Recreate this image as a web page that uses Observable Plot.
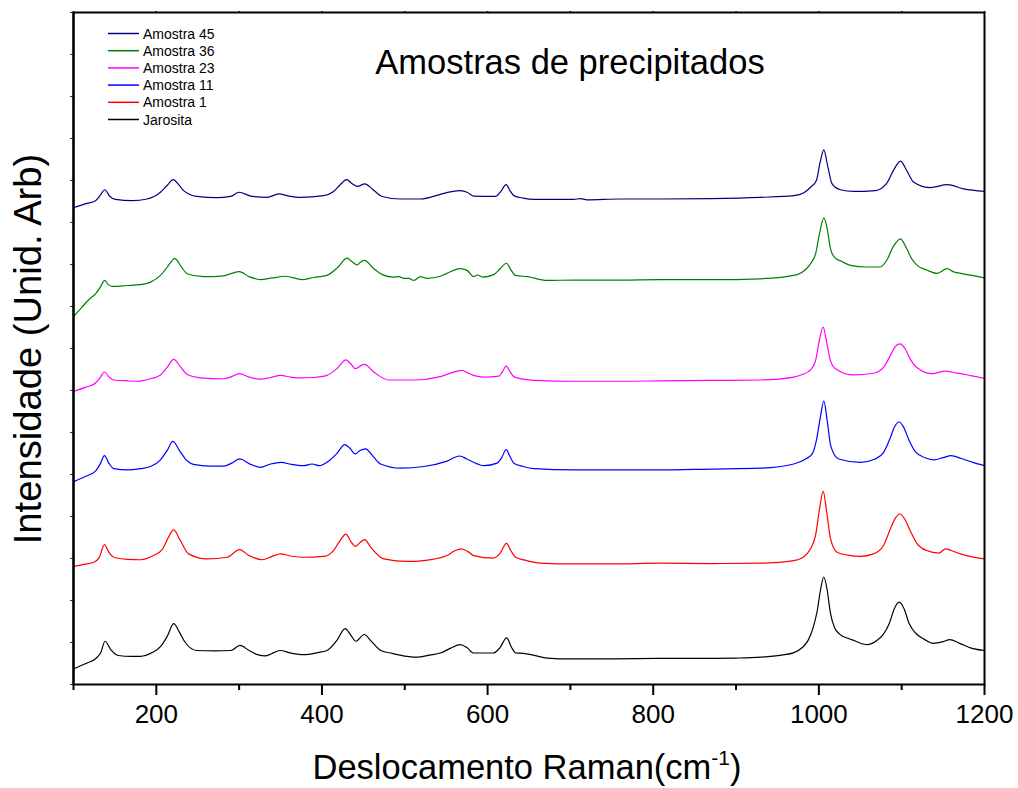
<!DOCTYPE html>
<html>
<head>
<meta charset="utf-8">
<script src="https://cdn.jsdelivr.net/npm/d3@7"></script>
<script src="https://cdn.jsdelivr.net/npm/@observablehq/plot@0.6"></script>
<style>
  body { margin: 0; background: #fff; }
  #chart { position: relative; width: 1018px; height: 788px; }
</style>
</head>
<body>
<div id="chart"></div>
<script>
// Raman spectra, stacked with a vertical offset (arbitrary intensity units).
// Each series: [Raman shift (cm-1), intensity]
const amostra45 = [[100,11.35],[115,11.45],[126.6,11.52],[132,11.64],[137.8,11.78],[144,11.62],[150.7,11.55],[170.8,11.52],[189,11.56],[205,11.72],[213,11.88],[220.4,12.02],[227,11.90],[233,11.76],[249,11.62],[273,11.59],[289.6,11.62],[299.7,11.72],[316,11.62],[333.9,11.60],[348,11.68],[360,11.63],[374,11.60],[402,11.64],[414,11.74],[422,11.90],[430,12.02],[436,11.93],[443,11.86],[451.8,11.92],[460.7,11.80],[472.8,11.62],[494.8,11.56],[519,11.56],[543,11.67],[555,11.73],[567.3,11.76],[575.3,11.72],[583,11.63],[609.5,11.62],[616,11.74],[622.4,11.90],[627,11.76],[631.7,11.64],[643,11.58],[656,11.55],[704,11.55],[712,11.57],[720,11.54],[760,11.56],[808,11.56],[870,11.57],[929.5,11.60],[969.7,11.64],[982,11.71],[990,11.84],[997,12.00],[1001.5,12.43],[1006,12.73],[1010.5,12.36],[1016,11.92],[1026,11.78],[1042,11.74],[1068,11.76],[1082,11.94],[1090,12.24],[1098.5,12.46],[1106,12.24],[1114.6,11.96],[1134.8,11.83],[1155,11.90],[1175,11.80],[1200,11.74]];

const amostra36 = [[100,8.76],[110,8.98],[120,9.19],[126.6,9.30],[132,9.45],[137.8,9.62],[142,9.52],[146.7,9.48],[165,9.50],[181,9.52],[193,9.58],[205,9.74],[213,9.93],[222.3,10.14],[230,9.95],[237.3,9.78],[257,9.71],[281.5,9.73],[291,9.79],[300.4,9.83],[312,9.71],[325.8,9.64],[340,9.68],[356,9.72],[376,9.64],[390,9.69],[406,9.74],[419,9.93],[430.4,10.15],[436,10.07],[442.5,9.99],[446,10.05],[451.4,10.10],[462.6,9.90],[472.8,9.76],[486.8,9.70],[493,9.71],[499,9.67],[505,9.67],[511,9.62],[519,9.71],[527,9.67],[543,9.72],[551,9.79],[567.3,9.90],[575.3,9.86],[583,9.71],[588,9.75],[593.5,9.70],[607.5,9.76],[615,9.90],[622.8,10.03],[628,9.88],[633.7,9.74],[648,9.71],[671.8,9.62],[704,9.63],[760,9.63],[808,9.64],[870,9.64],[929.5,9.66],[973.8,9.76],[984,9.88],[990,10.02],[996,10.25],[1001,10.76],[1006,11.11],[1010,10.86],[1014,10.38],[1019,10.17],[1028,10.07],[1038,9.98],[1058,9.94],[1074,9.94],[1082,10.10],[1090,10.43],[1098.5,10.61],[1106,10.38],[1112,10.14],[1118.7,9.98],[1130,9.87],[1142.8,9.79],[1155,9.90],[1162,9.83],[1171,9.79],[1185,9.74],[1200,9.68]];

const amostra23 = [[100,6.98],[115,7.08],[126.6,7.18],[132,7.30],[137.4,7.44],[143,7.32],[148.7,7.25],[165,7.23],[177,7.22],[193,7.28],[205,7.37],[213,7.55],[221,7.74],[229,7.57],[237.3,7.38],[253,7.30],[281.5,7.28],[291,7.33],[300.4,7.40],[312,7.32],[325.8,7.27],[338,7.31],[350,7.36],[362,7.32],[374,7.30],[390,7.31],[406,7.36],[418,7.52],[429,7.73],[435,7.63],[440.5,7.52],[446,7.58],[451.4,7.62],[462.6,7.44],[480.7,7.25],[511,7.25],[543,7.33],[556,7.42],[569,7.48],[576,7.42],[583,7.36],[595.5,7.32],[613.6,7.34],[618,7.45],[622.4,7.58],[627,7.45],[631.7,7.33],[643,7.27],[656,7.24],[704,7.22],[760,7.22],[808,7.23],[870,7.24],[929.5,7.25],[969.7,7.32],[980,7.38],[990,7.49],[996,7.71],[1000.5,8.19],[1005.2,8.51],[1009.5,8.14],[1014,7.71],[1020,7.52],[1042,7.37],[1066,7.41],[1078,7.55],[1087,7.86],[1092,8.04],[1097.7,8.11],[1104,8.00],[1110,7.76],[1118.7,7.54],[1136.8,7.40],[1153,7.46],[1160,7.44],[1171,7.40],[1185,7.35],[1200,7.29]];

const amostra11 = [[100,4.83],[115,4.96],[126.6,5.08],[132,5.24],[137.4,5.45],[143,5.26],[148.7,5.14],[165,5.11],[181,5.14],[193,5.19],[205,5.35],[213,5.57],[220,5.79],[228,5.57],[237.5,5.32],[245,5.24],[265,5.20],[281.5,5.20],[291,5.27],[301,5.37],[312,5.26],[325.8,5.17],[338,5.25],[350.8,5.29],[363,5.24],[378,5.21],[388,5.25],[397,5.21],[406,5.29],[418,5.50],[427.6,5.71],[434,5.62],[440,5.49],[446,5.57],[452.7,5.61],[461,5.45],[470.7,5.25],[494.8,5.15],[523,5.19],[551,5.32],[566.3,5.44],[575,5.37],[583,5.29],[595.5,5.21],[611.5,5.27],[617,5.40],[622.4,5.59],[627,5.43],[631.7,5.27],[643,5.19],[656,5.14],[704,5.11],[760,5.11],[808,5.11],[870,5.13],[929.5,5.15],[969.7,5.25],[985,5.38],[992,5.49],[997,5.81],[1001.5,6.33],[1006,6.75],[1010,6.29],[1014.5,5.67],[1024,5.37],[1050,5.29],[1068,5.37],[1078,5.52],[1086,5.86],[1091,6.12],[1096.7,6.25],[1102,6.14],[1109,5.81],[1117,5.53],[1128,5.40],[1139,5.35],[1150,5.40],[1159.7,5.45],[1172,5.38],[1186,5.29],[1200,5.21]];

const amostra1 = [[100,2.81],[110,2.85],[124.5,2.91],[131,3.02],[137.4,3.33],[143,3.14],[148.7,3.03],[165,2.98],[181,2.97],[196.6,3.07],[207,3.21],[214,3.48],[221,3.68],[229,3.43],[239,3.11],[261,2.99],[285.6,3.03],[300.4,3.21],[312,3.07],[327.8,2.97],[340,3.05],[350,3.11],[362,3.06],[378,3.03],[402,3.05],[414,3.19],[421,3.40],[429,3.58],[435,3.40],[440.5,3.29],[446,3.38],[451.4,3.45],[460,3.24],[474.7,2.99],[503,2.93],[523,2.95],[551,3.07],[560,3.18],[568,3.23],[576,3.17],[583,3.07],[607.5,3.01],[615,3.12],[622.8,3.36],[628,3.19],[633.7,3.03],[645,2.96],[664,2.89],[704,2.87],[750,2.87],[808,2.89],[870,2.88],[929.5,2.89],[969.7,2.95],[980,3.02],[990,3.23],[996,3.55],[1000.5,4.14],[1005.2,4.60],[1009.5,4.10],[1014,3.48],[1022,3.15],[1035,3.08],[1050,3.05],[1066,3.11],[1078,3.31],[1087,3.74],[1092,3.95],[1097.7,4.06],[1104,3.93],[1110,3.67],[1118.7,3.35],[1130,3.19],[1144.8,3.13],[1153,3.23],[1160,3.19],[1171,3.11],[1185,3.04],[1200,2.99]];

const jarosita = [[100,0.37],[115,0.50],[127,0.62],[133,0.76],[138,1.03],[145,0.83],[154,0.69],[170,0.67],[181,0.67],[195,0.76],[205,0.90],[213,1.14],[221,1.45],[228,1.24],[235,1.00],[249,0.81],[270,0.80],[290,0.81],[301,0.93],[312,0.81],[322,0.71],[332,0.68],[342,0.76],[350,0.81],[360,0.76],[378,0.71],[395,0.76],[406,0.81],[418,1.05],[428,1.33],[435,1.17],[441,1.03],[451,1.19],[460,1.02],[471,0.81],[485,0.74],[503,0.67],[515,0.65],[530,0.70],[543,0.75],[555,0.86],[567,0.95],[575,0.88],[583,0.75],[607,0.75],[615,0.88],[623,1.11],[629,0.88],[634,0.75],[643,0.74],[655,0.70],[672,0.63],[700,0.61],[750,0.61],[808,0.62],[850,0.62],[900,0.63],[930,0.65],[955,0.70],[970,0.76],[980,0.88],[987,1.05],[993,1.35],[998,1.75],[1002,2.25],[1006,2.56],[1010,2.25],[1014,1.70],[1019,1.35],[1025,1.20],[1035,1.10],[1042,1.05],[1058,0.95],[1070,1.05],[1078,1.20],[1085,1.45],[1091,1.80],[1097,1.96],[1103,1.80],[1109,1.45],[1117,1.22],[1127,1.08],[1138,0.98],[1150,1.02],[1158,1.07],[1170,0.98],[1185,0.86],[1200,0.81]];

const seriesNames  = ["Amostra 45", "Amostra 36", "Amostra 23", "Amostra 11", "Amostra 1", "Jarosita"];
const seriesColors = ["#000080", "#008000", "#FF00FF", "#0000FF", "#FF0000", "#000000"];
const seriesData   = [amostra45, amostra36, amostra23, amostra11, amostra1, jarosita];

const majorTicks = [200, 400, 600, 800, 1000, 1200];
const minorTicks = [100, 300, 500, 700, 900, 1100];
const yTicks = d3.range(0, 17);

const rows = seriesNames.flatMap((name, i) =>
  seriesData[i].map(([x, y]) => ({series: name, x, y}))
);

const FONT = "'Liberation Sans', Arial, Helvetica, sans-serif";
const W = 1018, H = 788;
const margin = {left: 73, right: 34, top: 12, bottom: 104};

const svg = Plot.plot({
  width: W,
  height: H,
  marginLeft: margin.left,
  marginRight: margin.right,
  marginTop: margin.top,
  marginBottom: margin.bottom,
  style: {fontFamily: FONT, background: "white", color: "black"},
  x: {domain: [100, 1200]},
  y: {domain: [0, 16]},
  color: {domain: seriesNames, range: seriesColors},
  marks: [
    Plot.line(rows, {x: "x", y: "y", z: "series", stroke: "series", curve: "monotone-x", strokeWidth: 1.2}),
    Plot.axisX({ticks: majorTicks, tickSize: 11, tickPadding: 9, strokeWidth: 2, fontSize: 26, tickFormat: d => String(d), label: null}),
    Plot.axisX({ticks: minorTicks, tickSize: 6, strokeWidth: 2, tickFormat: () => "", label: null}),
    Plot.axisX({anchor: "top", ticks: d3.range(100, 1201, 100), tickSize: 2, strokeWidth: 1.5, tickFormat: () => "", label: null}),
    Plot.axisY({ticks: yTicks, tickSize: 3, stroke: "#333", strokeWidth: 1, tickFormat: () => "", label: null}),
    Plot.ruleX([100], {stroke: "black", strokeWidth: 2.2}),
    Plot.frame({stroke: "black", strokeWidth: 2})
  ]
});

const root = d3.select(svg);

// Title
root.append("text")
  .attr("x", 570).attr("y", 74)
  .attr("text-anchor", "middle")
  .attr("font-family", FONT).attr("font-size", 34.5)
  .attr("fill", "black")
  .text("Amostras de precipitados");

// X axis title with superscript
const xt = root.append("text")
  .attr("x", 527).attr("y", 779)
  .attr("text-anchor", "middle")
  .attr("font-family", FONT).attr("font-size", 34.5)
  .attr("fill", "black");
xt.append("tspan").text("Deslocamento Raman(cm");
xt.append("tspan").attr("font-size", 21).attr("dy", -14).text("-1");
xt.append("tspan").attr("dy", 14).text(")");

// Y axis title
root.append("text")
  .attr("transform", "translate(41,349) rotate(-90)")
  .attr("text-anchor", "middle")
  .attr("font-family", FONT).attr("font-size", 38.2)
  .attr("fill", "black")
  .text("Intensidade (Unid. Arb)");

// Legend
const legend = root.append("g")
  .attr("font-family", FONT).attr("font-size", 14)
  .attr("text-anchor", "start");
seriesNames.forEach((name, i) => {
  const cy = 33.5 + i * 17.2;
  legend.append("line")
    .attr("x1", 108).attr("x2", 139).attr("y1", cy).attr("y2", cy)
    .attr("stroke", seriesColors[i]).attr("stroke-width", 1.5);
  legend.append("text")
    .attr("x", 143).attr("y", cy + 5)
    .attr("text-anchor", "start")
    .attr("fill", "black")
    .text(name);
});

document.getElementById("chart").appendChild(svg);
</script>
</body>
</html>
